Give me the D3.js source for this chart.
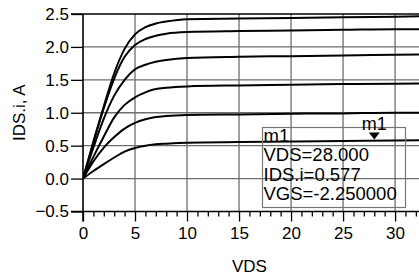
<!DOCTYPE html>
<html>
<head>
<meta charset="utf-8">
<script src="https://cdn.jsdelivr.net/npm/d3@7"></script>
<style>
  html, body { margin: 0; padding: 0; background: #fff; }
  text { font-family: "Liberation Sans", Arial, sans-serif; fill: #000; }
</style>
</head>
<body>
<div id="chart"></div>
<script>
// VDS sweep points (V)
const vds = [0, 1, 2, 3, 4, 5, 6, 7, 8, 10, 15, 20, 25, 30, 32.3];

// IDS.i (A) for each gate bias, top curve first
const ids1 = [0, 0.56, 1.10, 1.60, 1.97, 2.19, 2.30, 2.355, 2.385, 2.42, 2.43, 2.44, 2.45, 2.46, 2.465];
const ids2 = [0, 0.55, 1.07, 1.52, 1.85, 2.03, 2.12, 2.17, 2.20, 2.225, 2.24, 2.25, 2.26, 2.27, 2.27];
const ids3 = [0, 0.47, 0.91, 1.26, 1.50, 1.66, 1.73, 1.775, 1.80, 1.83, 1.85, 1.86, 1.87, 1.88, 1.885];
const ids4 = [0, 0.33, 0.64, 0.93, 1.12, 1.235, 1.31, 1.36, 1.38, 1.40, 1.415, 1.425, 1.435, 1.44, 1.445];
const ids5 = [0, 0.26, 0.47, 0.63, 0.76, 0.845, 0.90, 0.935, 0.95, 0.965, 0.975, 0.985, 0.99, 1.0, 1.0];
const ids6 = [0, 0.115, 0.22, 0.32, 0.41, 0.465, 0.50, 0.52, 0.53, 0.545, 0.555, 0.563, 0.571, 0.58, 0.582];
const series = [ids1, ids2, ids3, ids4, ids5, ids6];

// ticks
const xTicks = [0, 5, 10, 15, 20, 25, 30];
const xMinor = d3.range(0, 33, 1);
const yTicks = [-0.5, 0.0, 0.5, 1.0, 1.5, 2.0, 2.5];

// marker m1
const marker = { name: "m1", vds: 28, ids: 0.577, vgs: -2.25 };
const markerLines = ["m1", "VDS=28.000", "IDS.i=0.577", "VGS=-2.250000"];

const W = 419, H = 277;
const margin = { top: 14, right: 0, bottom: 66, left: 83 };

const svg = d3.select("#chart").append("svg")
  .attr("width", W).attr("height", H);

const x = d3.scaleLinear().domain([0, 32.3]).range([margin.left, W]);
const y = d3.scaleLinear().domain([-0.5, 2.5]).range([H - margin.bottom + 0.5, margin.top]);

const x0 = x(0), x1 = W, y0 = y(-0.5), y1 = y(2.5);

svg.append("defs").append("clipPath").attr("id", "plot")
  .append("rect").attr("x", x0).attr("y", y1 - 2).attr("width", x1 - x0).attr("height", y0 - y1 + 4);

// grid
const grid = svg.append("g");
grid.selectAll(".gx").data(xTicks.filter(d => d > 0)).enter().append("line")
  .attr("x1", d => x(d)).attr("x2", d => x(d))
  .attr("y1", y1).attr("y2", y0)
  .attr("stroke", "#6e6e6e").attr("stroke-width", 1.3);
grid.selectAll(".gy").data(yTicks.filter(d => d > -0.5 && d < 2.5)).enter().append("line")
  .attr("x1", x0).attr("x2", x1)
  .attr("y1", d => y(d)).attr("y2", d => y(d))
  .attr("stroke", "#6e6e6e").attr("stroke-width", 1.3);

// y axis
const yAxis = svg.append("g")
  .attr("transform", `translate(${x0},0)`)
  .call(d3.axisLeft(y).tickValues(yTicks).tickFormat(d3.format(".1f")).tickSize(12).tickPadding(2));
yAxis.select(".domain").remove();
yAxis.selectAll(".tick line").attr("stroke", "#000").attr("stroke-width", 1.3);
yAxis.selectAll("text").style("font-size", "17px").attr("fill", "#000");

// x axis minor ticks
const xMinorAxis = svg.append("g")
  .attr("transform", `translate(0,${y0})`)
  .call(d3.axisBottom(x).tickValues(xMinor.filter(d => d % 5 !== 0)).tickSize(5).tickFormat(""));
xMinorAxis.select(".domain").remove();
xMinorAxis.selectAll(".tick line").attr("stroke", "#000").attr("stroke-width", 1.3);

// x axis major ticks
const xAxis = svg.append("g")
  .attr("transform", `translate(0,${y0})`)
  .call(d3.axisBottom(x).tickValues(xTicks).tickSize(10).tickPadding(5));
xAxis.select(".domain").remove();
xAxis.selectAll(".tick line").attr("stroke", "#000").attr("stroke-width", 1.3);
xAxis.selectAll("text").style("font-size", "17px").attr("fill", "#000");

// frame lines: left, top, bottom
svg.append("line").attr("x1", x0).attr("x2", x0).attr("y1", y1).attr("y2", y0 + 10)
  .attr("stroke", "#000").attr("stroke-width", 1.6);
svg.append("line").attr("x1", x0 - 12).attr("x2", x1).attr("y1", y1).attr("y2", y1)
  .attr("stroke", "#000").attr("stroke-width", 1.6);
svg.append("line").attr("x1", x0 - 12).attr("x2", x1).attr("y1", y0).attr("y2", y0)
  .attr("stroke", "#000").attr("stroke-width", 1.6);

// curves
const line = d3.line()
  .x((d, i) => x(vds[i]))
  .y(d => y(d))
  .curve(d3.curveMonotoneX);

svg.append("g").attr("clip-path", "url(#plot)")
  .selectAll("path").data(series).enter().append("path")
  .attr("d", line)
  .attr("fill", "none")
  .attr("stroke", "#000")
  .attr("stroke-width", 2);

// marker box
const boxX = 262.5, boxY = 127.5, boxW = 143, boxH = 80;
svg.append("rect")
  .attr("x", boxX).attr("y", boxY).attr("width", boxW).attr("height", boxH)
  .attr("fill", "none").attr("stroke", "#777").attr("stroke-width", 1.2);

svg.append("g").selectAll("text").data(markerLines).enter().append("text")
  .attr("x", boxX + 1)
  .attr("y", (d, i) => 141.5 + i * 19.5)
  .style("font-size", "18.5px")
  .text(d => d);

// marker triangle and label
const mx = x(marker.vds), my = y(marker.ids);
svg.append("path")
  .attr("d", `M${mx - 5.5},${my - 8} L${mx + 5.5},${my - 8} L${mx},${my - 1} Z`)
  .attr("fill", "#000");
svg.append("text")
  .attr("x", mx).attr("y", my - 11)
  .attr("text-anchor", "middle")
  .style("font-size", "18px")
  .text(marker.name);

// axis titles
svg.append("text")
  .attr("x", x(16)).attr("y", 272)
  .attr("text-anchor", "middle")
  .style("font-size", "17px")
  .text("VDS");

svg.append("text")
  .attr("transform", `translate(25,${(y0 + y1) / 2}) rotate(-90)`)
  .attr("text-anchor", "middle")
  .style("font-size", "17px")
  .text("IDS.i, A");
</script>
</body>
</html>
